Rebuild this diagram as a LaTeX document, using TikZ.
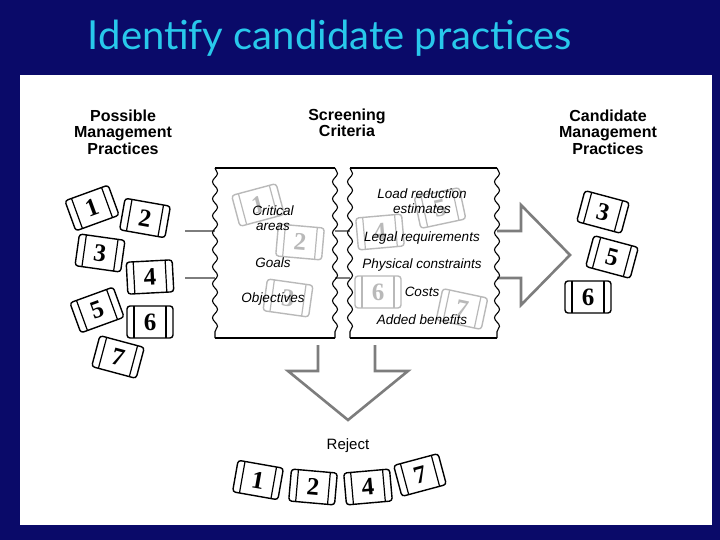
\documentclass[tikz,border=0pt]{standalone}
\usepackage{fontspec}
\setmainfont{Liberation Sans}
\newfontfamily\titlefont{Lato}
\newfontfamily\numfont{Liberation Serif}
\usetikzlibrary{decorations.pathmorphing}
\definecolor{navy}{RGB}{10,10,105}
\definecolor{titlecyan}{RGB}{40,200,235}
\definecolor{arrowgray}{RGB}{125,125,125}
\definecolor{ghost}{RGB}{185,185,185}
\tikzset{
  tileframe/.style={line width=1.4pt,rounded corners=3pt},
  tilebar/.style={line width=1.2pt},
  tilenum/.style={font=\numfont\fontsize{25}{25}\bfseries\selectfont},
  head/.style={font=\fontsize{16}{16.5}\bfseries\selectfont, align=center},
  crit/.style={font=\fontsize{13.5}{15}\itshape\selectfont, align=center},
  bigarrow/.style={draw=arrowgray, line width=2.6pt, line join=miter},
  wavy/.style={decorate, decoration={snake, amplitude=2.5pt, segment length=17pt}},
}
\newcommand\tile[6]{%
  \begin{scope}[shift={(#1,#2)},rotate=#3,#5]
    \draw[tileframe] (-23,-16) rectangle (23,16);
    \draw[tilebar] (-16,-16) -- (-16,16) (16,-16) -- (16,16);
    \node[tilenum,rotate=#3,text=.] (#6) at (0,0) {#4};
  \end{scope}}
\begin{document}
\begin{tikzpicture}[x=1pt,y=-1pt]
\useasboundingbox (0,0) rectangle (720,540);
\fill[navy] (0,0) rectangle (720,540);
\node[text=titlecyan, font=\titlefont\fontsize{40}{42}\selectfont] (title) at (330,38) {Identify candidate practices};
\fill[white] (20,75) rectangle (712,525);
% ghost tiles
\tile{258}{205}{15}{1}{ghost,draw=ghost}{g1}
\tile{300}{242}{-5}{2}{ghost,draw=ghost}{g2}
\tile{288}{298}{-8}{3}{ghost,draw=ghost}{g3}
\tile{380}{232}{5}{4}{ghost,draw=ghost}{g4}
\tile{440}{208}{12}{5}{ghost,draw=ghost}{g5}
\tile{378}{292}{0}{6}{ghost,draw=ghost}{g6}
\tile{462}{309}{-12}{7}{ghost,draw=ghost}{g7}
% big arrow right
\draw[bigarrow] (185,231) -- (215,231) (335,231) -- (350,231);
\draw[bigarrow] (185,278) -- (215,278) (335,278) -- (350,278);
\draw[bigarrow] (497,231) -- (521,231) -- (521,205) -- (570,255) -- (521,305) -- (521,278) -- (497,278);
% down arrow
\draw[bigarrow] (318,345) -- (318,371) -- (288,371) -- (348,420) -- (408,371) -- (375,371) -- (375,345);
% panels
\draw[line width=1.5pt] (215,168) -- (335,168) (215,338) -- (335,338);
\draw[line width=1.1pt,wavy] (215,168) -- (215,338);
\draw[line width=1.1pt,wavy] (335,168) -- (335,338);
\draw[line width=1.5pt] (350,168) -- (497,168) (350,338) -- (497,338);
\draw[line width=1.1pt,wavy] (350,168) -- (350,338);
\draw[line width=1.1pt,wavy] (497,168) -- (497,338);
% headings
\node[head] (h1) at (123,132) {Possible\\Management\\Practices};
\node[head] (h2) at (347,123) {Screening\\Criteria};
\node[head] (h3) at (608,132) {Candidate\\Management\\Practices};
% criteria
\node[crit] (c1) at (273,218) {Critical\\areas};
\node[crit] (c2) at (273,263) {Goals};
\node[crit] (c3) at (273,299) {Objectives};
\node[crit] (c4) at (422,201) {Load reduction\\estimates};
\node[crit] (c5) at (422,238) {Legal requirements};
\node[crit] (c6) at (422,265) {Physical constraints};
\node[crit] (c7) at (422,292) {Costs};
\node[crit] (c8) at (422,320) {Added benefits};
\node[font=\fontsize{15}{16}\selectfont] (rej) at (348,446) {Reject};
% left tiles
\tile{92}{208}{20}{1}{black}{l1}
\tile{145}{218}{-10}{2}{black}{l2}
\tile{100}{253}{-8}{3}{black}{l3}
\tile{150}{277}{3}{4}{black}{l4}
\tile{97}{310}{20}{5}{black}{l5}
\tile{150}{322}{0}{6}{black}{l6}
\tile{118}{357}{-15}{7}{black}{l7}
% right tiles
\tile{603}{212}{-15}{3}{black}{r3}
\tile{612}{257}{-15}{5}{black}{r5}
\tile{588}{297}{0}{6}{black}{r6}
% rejected tiles
\tile{258}{480}{-10}{1}{black}{b1}
\tile{313}{487}{-5}{2}{black}{b2}
\tile{368}{487}{5}{4}{black}{b4}
\tile{420}{475}{15}{7}{black}{b7}
\end{tikzpicture}
\end{document}
